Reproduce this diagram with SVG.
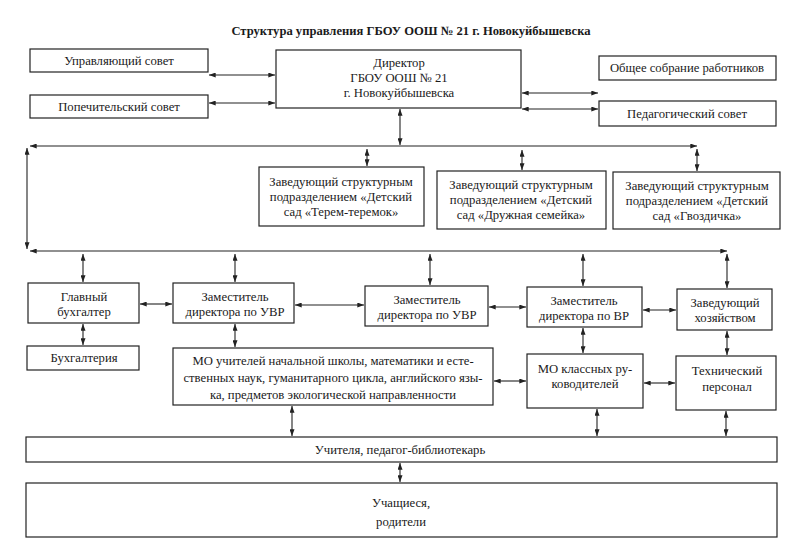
<svg xmlns="http://www.w3.org/2000/svg" width="800" height="543" viewBox="0 0 800 543">
<defs>
<marker id="ah" viewBox="0 0 8 6" refX="8" refY="3" markerWidth="7" markerHeight="5" markerUnits="userSpaceOnUse" orient="auto-start-reverse">
<path d="M0,0 L8,3 L0,6 z" fill="#222"/>
</marker>
<style>
.b{fill:#fff;stroke:#222;stroke-width:1.2}
.t{font-family:"Liberation Serif","Times New Roman",serif;font-size:12.7px;fill:#1a1a1a;text-anchor:middle}
.ti{font-family:"Liberation Serif","Times New Roman",serif;font-size:12.6px;font-weight:bold;fill:#1a1a1a;text-anchor:middle}
.c{stroke:#222;stroke-width:1.1;fill:none;marker-start:url(#ah);marker-end:url(#ah)}
</style>
</defs>
<rect width="800" height="543" fill="#fff"/>
<text class="ti" x="411" y="35">Структура управления ГБОУ ООШ № 21 г. Новокуйбышевска</text>

<g id="upr"><rect class="b" x="30" y="49" width="178" height="23"/><text class="t" x="119" y="65">Управляющий совет</text></g>
<g id="pop"><rect class="b" x="30" y="95" width="178" height="23"/><text class="t" x="119" y="111">Попечительский совет</text></g>
<g id="dir"><rect class="b" x="276" y="50" width="245" height="58"/>
<text class="t" x="399" y="67">Директор</text><text class="t" x="399" y="82">ГБОУ ООШ № 21</text><text class="t" x="399" y="97">г. Новокуйбышевска</text></g>
<g id="obsh"><rect class="b" x="599" y="56" width="177" height="24"/><text class="t" x="687" y="72">Общее собрание работников</text></g>
<g id="ped"><rect class="b" x="599" y="101" width="177" height="25"/><text class="t" x="687" y="118">Педагогический совет</text></g>

<g id="terem"><rect class="b" x="259" y="167" width="165" height="59"/>
<text class="t" x="341" y="186">Заведующий структурным</text><text class="t" x="341" y="201">подразделением «Детский</text><text class="t" x="341" y="216">сад «Терем-теремок»</text></g>
<g id="druzh"><rect class="b" x="437" y="171" width="169" height="58"/>
<text class="t" x="521" y="189">Заведующий структурным</text><text class="t" x="521" y="204">подразделением «Детский</text><text class="t" x="521" y="219">сад «Дружная семейка»</text></g>
<g id="gvoz"><rect class="b" x="613" y="172" width="167" height="57"/>
<text class="t" x="697" y="190">Заведующий структурным</text><text class="t" x="697" y="205">подразделением «Детский</text><text class="t" x="697" y="220">сад «Гвоздичка»</text></g>

<g id="glbuh"><rect class="b" x="28" y="283" width="111" height="40"/>
<text class="t" x="84" y="301">Главный</text><text class="t" x="84" y="316">бухгалтер</text></g>
<g id="zuvr1"><rect class="b" x="173" y="283" width="121" height="40"/>
<text class="t" x="235" y="301">Заместитель</text><text class="t" x="235" y="316">директора по УВР</text></g>
<g id="zuvr2"><rect class="b" x="365" y="286" width="123" height="40"/>
<text class="t" x="427" y="304">Заместитель</text><text class="t" x="427" y="319">директора по УВР</text></g>
<g id="zvr"><rect class="b" x="527" y="287" width="115" height="40"/>
<text class="t" x="584" y="305">Заместитель</text><text class="t" x="584" y="320">директора по ВР</text></g>
<g id="zhoz"><rect class="b" x="677" y="289" width="95" height="41"/>
<text class="t" x="725" y="307">Заведующий</text><text class="t" x="725" y="322">хозяйством</text></g>

<g id="buh"><rect class="b" x="27" y="346" width="112" height="24"/><text class="t" x="84" y="362">Бухгалтерия</text></g>
<g id="mo"><rect class="b" x="173" y="348" width="320" height="57"/>
<text class="t" x="333" y="365">МО учителей начальной школы, математики и есте-</text>
<text class="t" x="333" y="382">ственных наук, гуманитарного цикла, английского язы-</text>
<text class="t" x="333" y="399">ка, предметов экологической направленности</text></g>
<g id="mokl"><rect class="b" x="527" y="354" width="116" height="54"/>
<text class="t" x="585" y="373">МО классных ру-</text><text class="t" x="585" y="388">ководителей</text></g>
<g id="tekh"><rect class="b" x="676" y="356" width="100" height="54"/>
<text class="t" x="727" y="375">Технический</text><text class="t" x="727" y="391">персонал</text></g>

<g id="uch"><rect class="b" x="26" y="437" width="751" height="25"/><text class="t" x="400" y="454">Учителя, педагог-библиотекарь</text></g>
<g id="uchsh"><rect class="b" x="26" y="483" width="751" height="54"/>
<text class="t" x="401" y="507">Учащиеся,</text><text class="t" x="401" y="526">родители</text></g>

<g id="connectors">
<line class="c" x1="209" y1="75" x2="275" y2="75"/>
<line class="c" x1="209" y1="103" x2="275" y2="103"/>
<line class="c" x1="522" y1="93" x2="598" y2="93"/>
<line class="c" x1="522" y1="109" x2="598" y2="109"/>
<line class="c" x1="400" y1="109" x2="400" y2="145"/>
<line class="c" x1="30" y1="146" x2="697" y2="146"/>
<line class="c" x1="27" y1="148" x2="27" y2="249"/>
<line class="c" x1="367" y1="149" x2="367" y2="166"/>
<line class="c" x1="522" y1="150" x2="522" y2="170"/>
<line class="c" x1="697" y1="149" x2="697" y2="171"/>
<line class="c" x1="30" y1="251" x2="727" y2="251"/>
<line class="c" x1="83" y1="254" x2="83" y2="282"/>
<line class="c" x1="235" y1="254" x2="235" y2="282"/>
<line class="c" x1="430" y1="254" x2="430" y2="285"/>
<line class="c" x1="583" y1="254" x2="583" y2="286"/>
<line class="c" x1="727" y1="254" x2="727" y2="288"/>
<line class="c" x1="140" y1="304" x2="172" y2="304"/>
<line class="c" x1="295" y1="305" x2="364" y2="305"/>
<line class="c" x1="489" y1="307" x2="526" y2="307"/>
<line class="c" x1="643" y1="310" x2="676" y2="310"/>
<line class="c" x1="83" y1="324" x2="83" y2="345"/>
<line class="c" x1="235" y1="324" x2="235" y2="347"/>
<line class="c" x1="583" y1="328" x2="583" y2="353"/>
<line class="c" x1="727" y1="331" x2="727" y2="355"/>
<line class="c" x1="494" y1="381" x2="526" y2="381"/>
<line class="c" x1="644" y1="383" x2="675" y2="383"/>
<line class="c" x1="292" y1="406" x2="292" y2="436"/>
<line class="c" x1="597" y1="409" x2="597" y2="436"/>
<line class="c" x1="726" y1="411" x2="726" y2="436"/>
<line class="c" x1="400" y1="463" x2="400" y2="482"/>
</g>
</svg>
